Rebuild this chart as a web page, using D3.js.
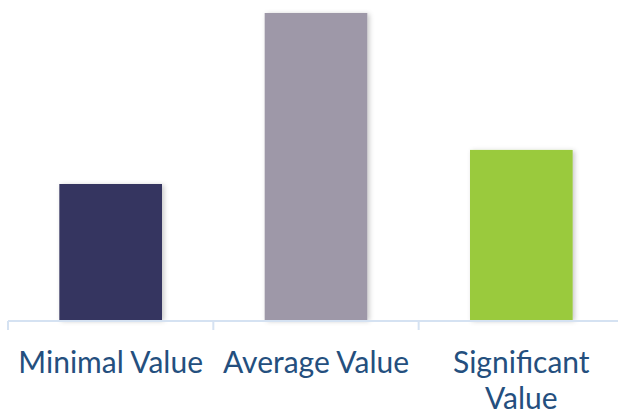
<!DOCTYPE html>
<html><head><meta charset="utf-8">
<script src="https://cdn.jsdelivr.net/npm/d3@7"></script>
<style>html,body{margin:0;padding:0;background:#fff;overflow:hidden}</style>
</head><body>
<svg id="c" width="618" height="413"></svg>
<script>
const categories = ["Minimal Value", "Average Value", "Significant Value"];
const tickLabels = [["Minimal Value"], ["Average Value"], ["Significant", "Value"]];
const values = [44.3, 100, 55.4];
const colors = ["#343461", "#9E98A8", "#9ACA3C"];

const svg = d3.select("#c");
const x = d3.scaleBand().domain(categories).range([8, 624]).paddingInner(0.5).paddingOuter(0.25);
const y = d3.scaleLinear().domain([0, 100]).range([320, 13]);

const defs = svg.append("defs");
const f = defs.append("filter").attr("id","sh").attr("x","-20%").attr("y","-20%").attr("width","140%").attr("height","140%");
f.append("feDropShadow").attr("dx",2).attr("dy",1).attr("stdDeviation",2.5).attr("flood-color","#000").attr("flood-opacity",0.22);

svg.append("g").selectAll("rect").data(categories).join("rect")
  .attr("x", d => x(d))
  .attr("y", (d,i) => y(values[i]))
  .attr("width", x.bandwidth())
  .attr("height", (d,i) => y(0) - y(values[i]))
  .attr("fill", (d,i) => colors[i])
  .attr("filter","url(#sh)");

const axisY = 321;
const axisColor = "#D5E2F2";
svg.append("line").attr("x1", x.range()[0]).attr("x2", x.range()[1]).attr("y1", axisY).attr("y2", axisY)
  .attr("stroke", axisColor).attr("stroke-width", 2);
const half = x.step() * x.paddingInner() / 2;
const bounds = categories.map(d => x(d) - half).concat([x(categories[categories.length-1]) + x.bandwidth() + half]);
svg.append("g").selectAll("line").data(bounds).join("line")
  .attr("x1", d => d).attr("x2", d => d).attr("y1", axisY).attr("y2", axisY + 9)
  .attr("stroke", axisColor).attr("stroke-width", 2);

const lab = svg.append("g").selectAll("text").data(categories).join("text")
  .attr("x", d => x(d) + x.bandwidth()/2)
  .attr("y", 373)
  .attr("text-anchor","middle")
  .attr("font-family","Lato, 'Open Sans', sans-serif")
  .attr("font-size", 30)
  .attr("fill","#244F7E");
lab.each(function(d,i){
  d3.select(this).selectAll("tspan").data(tickLabels[i]).join("tspan")
    .attr("x", x(d) + x.bandwidth()/2)
    .attr("dy", (t,j) => j === 0 ? 0 : 36)
    .text(t => t);
});
</script>
</body></html>
